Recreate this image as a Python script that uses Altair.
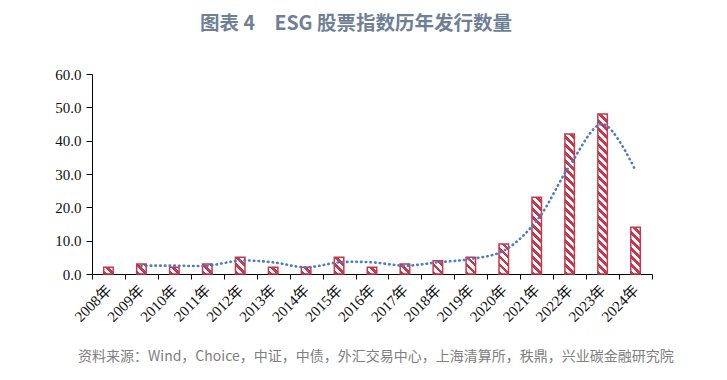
import math
import altair as alt
import pandas as pd

# ---- data ----
years = ["2008年", "2009年", "2010年", "2011年", "2012年", "2013年", "2014年",
         "2015年", "2016年", "2017年", "2018年", "2019年", "2020年", "2021年",
         "2022年", "2023年", "2024年"]
counts = [2, 3, 2, 3, 5, 2, 2, 5, 2, 3, 4, 5, 9, 23, 42, 48, 14]
trend = [None, 2.5, 2.5, 2.5, 4.0, 3.5, 2.0, 3.5, 3.5, 2.5, 3.5, 4.5, 7.0,
         16.0, 32.5, 45.0, 31.0]
y_ticks = [0, 10, 20, 30, 40, 50, 60]
title_text = "图表 4\u3000ESG 股票指数历年发行数量"
source_text = "资料来源：Wind，Choice，中证，中债，外汇交易中心，上海清算所，秩鼎，兴业碳金融研究院"

# ---- layout / style ----
W, H = 560, 200
YMAX = 60
BAR_W = 9.5
RED = "#C8384A"
BLUE = "#4B7CC4"
PERIOD = 8.0
RED_FRAC = 0.48
SERIF = "Liberation Serif, Noto Sans CJK SC"
CJK = "Noto Sans CJK SC"

df = pd.DataFrame({"year": years, "count": counts, "trend": trend})


def stripe_gradient(value):
    """Diagonal '\\' stripes for a bar of the given value (bbox units)."""
    w = BAR_W
    h = max(value * H / YMAX, 0.5)
    total = w + h
    lam = (w + h) / (w * w + h * h)
    stops = []
    n = int(math.ceil(total / PERIOD)) + 1
    for k in range(n):
        a = k * PERIOD / total
        b = (k + RED_FRAC) * PERIOD / total
        c = (k + 1) * PERIOD / total
        if a >= 1:
            break
        stops.append(alt.GradientStop(offset=min(a, 1), color=RED))
        stops.append(alt.GradientStop(offset=min(b, 1), color=RED))
        if b < 1:
            stops.append(alt.GradientStop(offset=min(b, 1), color="white"))
            stops.append(alt.GradientStop(offset=min(c, 1), color="white"))
    return alt.LinearGradient(gradient="linear", stops=stops,
                              x1=0, y1=1, x2=lam * w, y2=1 - lam * h)


x_axis = alt.Axis(title=None, labelAngle=-45, labelAlign="right",
                  labelBaseline="middle", tickBand="extent", tickSize=5,
                  labelPadding=8, labelFont=SERIF, labelFontSize=15,
                  labelColor="#111111", domainColor="#000000",
                  tickColor="#000000", grid=False)
y_axis = alt.Axis(title=None, values=y_ticks, format=".1f", tickSize=6,
                  labelPadding=5, labelFont=SERIF, labelFontSize=15,
                  labelColor="#111111", domainColor="#000000",
                  tickColor="#000000", grid=False)

x_enc = alt.X("year:N", sort=years,
              scale=alt.Scale(paddingInner=0, paddingOuter=0), axis=x_axis)
y_scale = alt.Scale(domain=[0, YMAX])

layers = []
for yr, v in zip(years, counts):
    layers.append(
        alt.Chart()
        .mark_bar(width=BAR_W, fill=stripe_gradient(v), stroke=RED,
                  strokeWidth=1.5)
        .encode(x=x_enc, y=alt.Y("count:Q", scale=y_scale, axis=y_axis))
        .transform_filter(alt.datum.year == yr)
    )

line = (
    alt.Chart()
    .mark_line(interpolate="catmull-rom", color=BLUE, strokeWidth=2.6,
               strokeDash=[0.5, 4.2], strokeCap="round")
    .encode(x=x_enc, y=alt.Y("trend:Q", scale=y_scale, axis=y_axis))
    .transform_filter("isValid(datum.trend)")
)

title = (
    alt.Chart(pd.DataFrame({"t": [title_text]}))
    .mark_text(font=CJK, fontSize=19.5, fontWeight="bold", color="#6F7F97",
               align="center", baseline="middle")
    .encode(text="t:N", x=alt.value(264), y=alt.value(-50))
)

source = (
    alt.Chart(pd.DataFrame({"t": [source_text]}))
    .mark_text(font=CJK, fontSize=14, color="#808080",
               align="left", baseline="middle")
    .encode(text="t:N", x=alt.value(-14), y=alt.value(283))
)

chart = (
    alt.layer(*layers, line, title, source, data=df)
    .properties(width=W, height=H,
                autosize=alt.AutoSizeParams(type="none"),
                padding={"left": 84, "top": 66, "right": 60, "bottom": 94})
    .configure_view(stroke=None)
)

chart.save("out.html", embed_options={"renderer": "svg", "actions": False})
